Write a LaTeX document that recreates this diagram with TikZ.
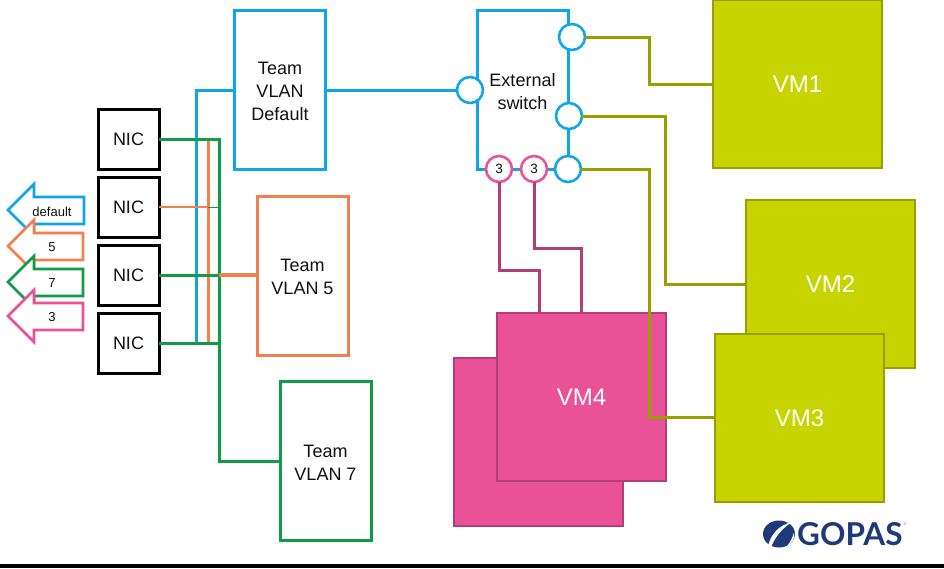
\documentclass[tikz,border=0pt]{standalone}
\usepackage{fontspec}
\setmainfont{Liberation Sans}
\newfontfamily\logofont{Lato}
\definecolor{cblue}{HTML}{0FA5E6}
\definecolor{corange}{HTML}{F2804F}
\definecolor{cgreen}{HTML}{0F9B48}
\definecolor{cpink}{HTML}{EA5297}
\definecolor{cpinkd}{HTML}{B23E78}
\definecolor{colive}{HTML}{98A000}
\definecolor{cvm}{HTML}{C8D400}
\definecolor{cnavy}{HTML}{1F3A78}
\definecolor{ctext}{HTML}{111111}
\tikzset{
  base/.style={inner sep=0pt,outer sep=0pt,align=center,text=ctext,font=\fontsize{18}{23}\selectfont},
  nicbox/.style={base,draw=black,line width=3pt,fill=white,minimum width=61pt,minimum height=60pt},
  teambox/.style={base,draw=#1,line width=3pt,fill=white,minimum width=91pt,minimum height=159pt},
  vmbox/.style={base,draw=colive,line width=2.6pt,fill=cvm,text=white,minimum width=169pt,minimum height=168pt,font=\fontsize{24}{28}\selectfont},
  vmpink/.style={base,draw=cpinkd,line width=2.6pt,fill=cpink,text=white,minimum width=169pt,minimum height=168pt,font=\fontsize{24}{28}\selectfont},
  port/.style={circle,draw=#1,line width=2.6pt,fill=white,minimum size=26pt,inner sep=0pt,outer sep=0pt,text=ctext,font=\fontsize{13.5}{15}\selectfont},
  wire/.style={line width=3pt,draw=#1},
  flag/.style={draw=#1,line width=2.6pt,fill=white,line join=miter},
  flaglabel/.style={text=ctext,inner sep=0pt,font=\fontsize{13}{15}\selectfont}
}
\newcommand{\firstline}{\rule{0pt}{16pt}}
\begin{document}
\begin{tikzpicture}[x=1pt,y=-1pt]
\useasboundingbox (0,0) rectangle (944,568);
\fill[black] (0,564) rectangle (944,568);

% flag arrows
\draw[flag=cblue] (8,210) -- (34,184) -- (34,197) -- (84,197) -- (84,224) -- (34,224) -- (34,236) -- cycle;
\draw[flag=corange] (8,246) -- (34,220) -- (34,233) -- (83,233) -- (83,260) -- (34,260) -- (34,272) -- cycle;
\draw[flag=cgreen] (8,282) -- (34,256) -- (34,269) -- (83,269) -- (83,296) -- (34,296) -- (34,308) -- cycle;
\draw[flag=cpink] (8,316) -- (34,290) -- (34,303) -- (83,303) -- (83,330) -- (34,330) -- (34,342) -- cycle;
\node[flaglabel] (fdefault) at (52,211.5) {default};
\node[flaglabel] (ffive) at (52,247) {5};
\node[flaglabel] (fseven) at (52,283) {7};
\node[flaglabel] (fthree) at (52,317) {3};

% boxes
\node[nicbox] (nic1) at (128.5,139) {\raisebox{-1pt}{NIC}};
\node[nicbox] (nic2) at (128.5,207) {\raisebox{-1.5pt}{NIC}};
\node[nicbox] (nic3) at (128.5,275) {\raisebox{-1.5pt}{NIC}};
\node[nicbox] (nic4) at (128.5,343) {\raisebox{-1.5pt}{NIC}};
\node[teambox=cblue] (tdef) at (280,90) {\firstline Team\\VLAN\\Default};
\node[teambox=corange] (t5) at (302.5,275.5) {\firstline Team\\VLAN 5};
\node[teambox=cgreen] (t7) at (325.5,461) {\firstline Team\\VLAN 7};
\node[teambox=cblue] (sw) at (522.5,90) {\firstline External\\switch};

\node[vmbox] (vm1) at (797.5,84) {\raisebox{-2pt}{VM1}};
\node[vmbox] (vm2) at (830.5,284) {VM2};
\node[vmbox] (vm3) at (799.5,418) {VM3};
\node[vmpink] (vm4b) at (538.5,442) {};
\node[vmpink] (vm4) at (581.5,397) {VM4};

% ports
\node[port=cblue] (pin) at (470,90) {};
\node[port=cblue] (p1) at (572,37) {};
\node[port=cblue] (p2) at (569,116) {};
\node[port=cblue] (p3) at (568,169) {};
\node[port=cpink] (q1) at (499,169) {3};
\node[port=cpink] (q2) at (534,169) {3};

% wires
\coordinate (bluejoin) at (196,343);
\coordinate (orangetop) at (208,139);
\coordinate (orangebot) at (208,343);
\coordinate (orangejoin) at (219,275);
\draw[wire=cblue] (tdef.west) -- (196,90) -- (bluejoin);
\draw[wire=corange] (orangetop) -- (orangebot);
\draw[corange,line width=2.2pt] (nic2.east) -- (208,207);
\draw[cgreen,line width=.8pt] (208,207) -- (219,207);
\draw[wire=cgreen] (nic1.east) -- (219,139) -- (219,461) -- (t7.west);
\draw[wire=cgreen] (nic3.east) -- (orangejoin);
\draw[wire=cgreen] (nic4.east) -- (219,343);
\draw[corange,line width=4pt] (orangejoin) -- (t5.west |- orangejoin);
\draw[wire=cblue] (tdef.east |- pin) -- (pin.west);

\draw[wire=colive] (p1.east) -- (649,37) -- (649,84) -- (vm1.west);
\draw[wire=colive] (p2.east) -- (665,116) -- (665,284) -- (vm2.west);
\draw[wire=colive] (p3.east) -- (649,169) -- (649,417) -- (vm3.west |- 0,417);
\draw[wire=cpinkd] (q1.south) -- (499,270) -- (539,270) -- (539,313);
\draw[wire=cpinkd] (q2.south) -- (534,248) -- (581,248) -- (581,313);

% logo
\fill[cnavy] (779,534) ellipse [x radius=16,y radius=13.5];
\fill[white] (768,546) .. controls (771,534) and (779,525) .. (792,522)
  .. controls (784,527) and (776,535) .. (771,547) -- cycle;
\fill[white] (787,546) .. controls (791,541) and (793,537) .. (794,532)
  .. controls (795,538) and (793,543) .. (787,546) -- cycle;
\node[inner sep=0pt,text=cnavy,anchor=west,font=\logofont\bfseries\fontsize{31.5}{33}\selectfont] (logo) at (797,534) {GOPAS};
\node[inner sep=0pt,text=gray,font=\fontsize{4}{4}\selectfont] (reg) at (905,524) {®};
\end{tikzpicture}
\end{document}
